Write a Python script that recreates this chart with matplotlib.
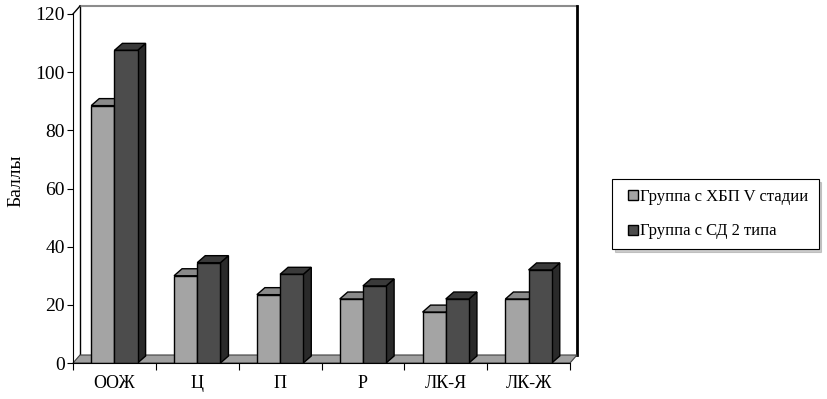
import matplotlib
matplotlib.use('Agg')
import matplotlib.pyplot as plt
from matplotlib.patches import Polygon
from matplotlib.lines import Line2D
import numpy as np

plt.rcParams['font.family'] = ['Liberation Serif', 'DejaVu Serif']

categories = ['ООЖ', 'Ц', 'П', 'Р', 'ЛК-Я', 'ЛК-Ж']
ckd_v = [88.5, 30, 23.5, 22, 17.5, 22]
dm2 = [107.5, 34.5, 30.5, 26.5, 22, 32]
series_names = ['Группа с ХБП V стадии', 'Группа с СД 2 типа']
y_ticks = [0, 20, 40, 60, 80, 100, 120]

# front / top / side shades
light = ['#a4a4a4', '#8a8a8a', '#6a6a6a']
dark = ['#4c4c4c', '#3a3a3a', '#2a2a2a']

W, H = 827, 399
fig = plt.figure(figsize=(W / 100, H / 100), dpi=100)
ax = fig.add_axes([73 / W, 36 / H, 497 / W, 349 / H])
n = len(categories)
ax.set_xlim(0, n)
ax.set_ylim(0, 120)
ax.patch.set_alpha(0)

# pixel -> data units
px_x = n / 497
px_y = 120 / 349
bdx, bdy = 8 * px_x, 7 * px_y   # bar depth
wdx, wdy = 7 * px_x, 8 * px_y   # wall depth

# back wall and floor
ax.add_patch(Polygon([(wdx, wdy), (n + wdx, wdy), (n + wdx, 120 + wdy), (wdx, 120 + wdy)],
                     closed=True, fc='white', ec='none', zorder=0, clip_on=False))
ax.plot([wdx, wdx], [wdy, 120 + wdy], color='k', lw=1, clip_on=False, zorder=1)
ax.plot([wdx, n + wdx], [120 + wdy, 120 + wdy], color='#8c8c8c', lw=1.5, clip_on=False, zorder=1)
ax.plot([n + wdx, n + wdx], [wdy, 120 + wdy], color='k', lw=2, clip_on=False, zorder=1)
ax.plot([0, wdx], [120, 120 + wdy], color='k', lw=1, clip_on=False, zorder=1)
ax.add_patch(Polygon([(0, 0), (n, 0), (n + wdx, wdy), (wdx, wdy)], closed=True,
                     fc='#a0a0a0', ec='#404040', lw=0.8, zorder=1, clip_on=False))

bw = 0.28
x = np.arange(n)


def bar3d(x0, h, cols, z):
    ax.add_patch(Polygon([(x0 + bw, 0), (x0 + bw + bdx, bdy), (x0 + bw + bdx, h + bdy), (x0 + bw, h)],
                         closed=True, fc=cols[2], ec='k', lw=1, zorder=z, clip_on=False))
    ax.add_patch(Polygon([(x0, h), (x0 + bw, h), (x0 + bw + bdx, h + bdy), (x0 + bdx, h + bdy)],
                         closed=True, fc=cols[1], ec='k', lw=1, zorder=z, clip_on=False))


for i in range(n):
    bar3d(x[i] + 0.22, ckd_v[i], light, 3)
    bar3d(x[i] + 0.50, dm2[i], dark, 5)
ax.bar(x + 0.22, ckd_v, width=bw, align='edge', color=light[0], edgecolor='k', lw=1, zorder=4)
ax.bar(x + 0.50, dm2, width=bw, align='edge', color=dark[0], edgecolor='k', lw=1, zorder=6)

for s in ['top', 'right']:
    ax.spines[s].set_visible(False)
ax.spines['left'].set_zorder(7)
ax.spines['bottom'].set_zorder(7)

ax.set_yticks(y_ticks)
ax.tick_params(axis='y', length=4, labelsize=14, pad=2)
ax.set_xticks(range(n + 1))
ax.set_xticklabels([])
ax.set_xticks(x + 0.5, minor=True)
ax.set_xticklabels(categories, minor=True)
ax.tick_params(axis='x', which='major', length=5)
ax.tick_params(axis='x', which='minor', length=0, pad=9, labelsize=13)

fig.text(16 / W, 1 - 181 / H, 'Баллы', rotation=90, ha='center', va='center', fontsize=14)

handles = [Line2D([], [], ls='none', marker='s', markersize=6.5, mfc=c[0], mec='k', mew=1)
           for c in (light, dark)]
leg = fig.legend(handles, series_names, loc='upper left', bbox_to_anchor=(612 / W, 1 - 179 / H),
                 frameon=True, fancybox=False, shadow={'color': '#9a9a9a'}, edgecolor='k', fontsize=12,
                 handlelength=1.3, handletextpad=-0.2, labelspacing=1.1,
                 borderpad=0.6, borderaxespad=0)
leg.get_frame().set_linewidth(0.8)

fig.savefig('out.png', dpi=100, facecolor='white')
